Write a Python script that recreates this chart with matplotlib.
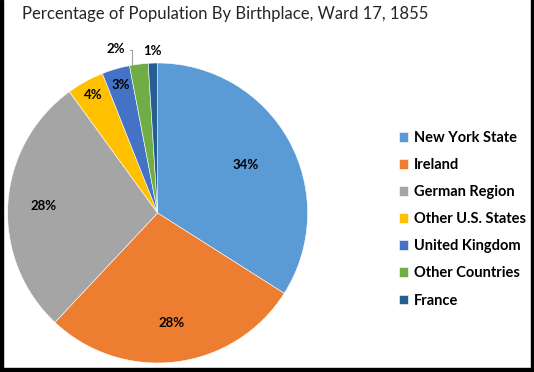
import numpy as np
import matplotlib
matplotlib.use("Agg")
import matplotlib.pyplot as plt
from matplotlib.patches import Rectangle

# data
places = ["New York State", "Ireland", "German Region", "Other U.S. States",
          "United Kingdom", "Other Countries", "France"]
shares = [34, 28, 28, 4, 3, 2, 1]
pct_labels = ["34%", "28%", "28%", "4%", "3%", "2%", "1%"]
colors = ["#5B9BD5", "#ED7D31", "#A5A5A5", "#FFC000", "#4472C4", "#70AD47", "#255E91"]
title = "Percentage of Population By Birthplace, Ward 17, 1855"

W, H = 534, 372
fig = plt.figure(figsize=(W / 100, H / 100), dpi=100)

# pie centred at (157.6, 213) px, radius 150 px
cx, cy, r = 157.6, 213.0, 150.0
ax = fig.add_axes([(cx - r) / W, (H - cy - r) / H, 2 * r / W, 2 * r / H])
wedges, _ = ax.pie(shares, colors=colors, startangle=90, counterclock=False,
                   wedgeprops=dict(edgecolor="white", linewidth=0.4))
ax.set_xlim(-1, 1)
ax.set_ylim(-1, 1)
ax.set_aspect("equal")
ax.axis("off")

# label distance from centre (fraction of radius)
dists = [0.67, 0.74, 0.76, 0.895, 0.89, None, 1.08]
lab_font = dict(fontsize=9.5, fontweight="bold", family="Lato")
for w, lab, d in zip(wedges, pct_labels, dists):
    mid = np.deg2rad((w.theta1 + w.theta2) / 2)
    if d is None:
        # leader line label (2%)
        a = np.deg2rad(max(w.theta1, w.theta2) - 1)
        ax.annotate(lab, xy=(np.cos(a), np.sin(a)), xytext=(-0.215, 1.095),
                    ha="right", va="center", **lab_font,
                    arrowprops=dict(arrowstyle="-", color="#A0A0A0", lw=0.8,
                                    shrinkA=1, shrinkB=0, relpos=(1.0, 0.4),
                                    connectionstyle="angle,angleA=0,angleB=90,rad=0"))
        continue
    ax.text(d * np.cos(mid), d * np.sin(mid), lab, ha="center", va="center", **lab_font)

fig.text(22 / W, 1 - 14 / H, title, ha="left", va="center", fontsize=12,
         family="Lato", color="#262626")

fig.legend(wedges, places, loc="upper left", bbox_to_anchor=(393 / W, 1 - 125 / H),
           frameon=False, handlelength=0.65, handleheight=0.65, handletextpad=0.4,
           labelspacing=0.9, borderaxespad=0,
           prop=dict(family="Lato", weight="bold", size=10.5))

# black border on left, right and bottom
fig.patches.append(Rectangle((0, 0), 3 / W, 1, transform=fig.transFigure,
                             color="black", zorder=10))
fig.patches.append(Rectangle((1 - 3 / W, 0), 3 / W, 1, transform=fig.transFigure,
                             color="black", zorder=10))
fig.patches.append(Rectangle((0, 0), 1, 4 / H, transform=fig.transFigure,
                             color="black", zorder=10))

fig.savefig("out.png", dpi=100)
